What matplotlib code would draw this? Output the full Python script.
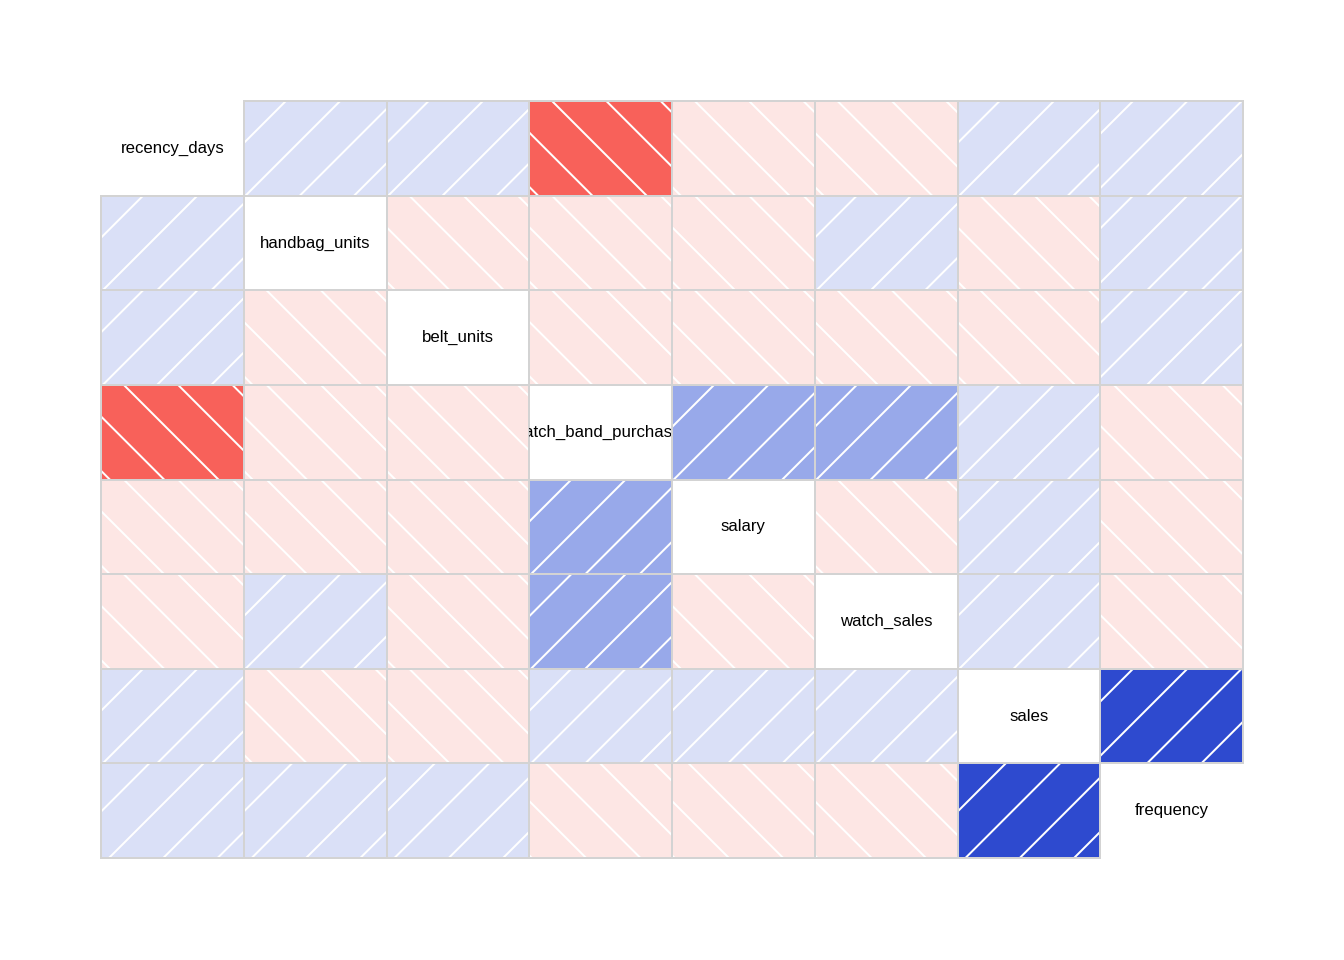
import numpy as np
import matplotlib
matplotlib.use("Agg")
import matplotlib.pyplot as plt
from matplotlib.patches import Rectangle
from matplotlib.collections import LineCollection
from matplotlib.transforms import Bbox, TransformedBbox

# variables, in the order of the matrix
names = ["recency_days", "handbag_units", "belt_units", "watch_band_purchases",
         "salary", "watch_sales", "sales", "frequency"]

# correlations (symmetric), read from the shading classes
corr = [
    [1.00, 0.04, 0.02, -0.78, -0.03, -0.05, 0.06, 0.05],
    [0.04, 1.00, -0.02, -0.04, -0.01, 0.03, -0.02, 0.04],
    [0.02, -0.02, 1.00, -0.03, -0.02, -0.01, -0.04, 0.02],
    [-0.78, -0.04, -0.03, 1.00, 0.36, 0.33, 0.08, -0.06],
    [-0.03, -0.01, -0.02, 0.36, 1.00, -0.02, 0.05, -0.03],
    [-0.05, 0.03, -0.01, 0.33, -0.02, 1.00, 0.07, -0.04],
    [0.06, -0.02, -0.04, 0.08, 0.05, 0.07, 1.00, 0.81],
    [0.05, 0.04, 0.02, -0.06, -0.03, -0.04, 0.81, 1.00],
]

# where 0 sits inside each variable's panel range (sets the hatch phase)
origin_frac = [0.037, 0.037, 0.037, 0.037, 0.037, 0.037, 0.037, -0.028]

# 14 shading classes, as corrgram does
n_bins = 14
anchor_bins = [0, 1, 6, 7, 9, 12, 13]
anchor_cols = ["#F23D35", "#F8615A", "#FDE6E4", "#DAE0F7", "#98A9EA", "#2E4ACF", "#1D35B5"]


def hex_rgb(h):
    return np.array([int(h[k:k + 2], 16) for k in (1, 3, 5)]) / 255.0


anchor_rgb = np.array([hex_rgb(c) for c in anchor_cols])
palette = [tuple(np.interp(b, anchor_bins, anchor_rgb[:, ch]) for ch in range(3))
           for b in range(n_bins)]


def shade(r):
    idx = int(np.floor((r + 1) / 2 * n_bins))
    return palette[min(max(idx, 0), n_bins - 1)]


dpi = 192
fig = plt.figure(figsize=(7, 5), dpi=dpi)
left, right, top, bottom = 101, 1243, 101, 858
ax = fig.add_axes([left / 1344, 1 - bottom / 960, (right - left) / 1344, (bottom - top) / 960])
n = len(names)
ax.set_xlim(0, n)
ax.set_ylim(n, 0)
ax.axis("off")

W = (right - left) / n       # cell size in px
H = (bottom - top) / n
S = 0.2 / np.sin(np.pi / 4) * dpi   # density 5 lines/inch, 45 degrees

for i in range(n):
    for j in range(n):
        if i == j:
            t = ax.text(j + 0.5, i + 0.5, names[i], ha="center", va="center",
                        fontsize=6.3, family=["Liberation Sans", "DejaVu Sans"],
                        clip_on=True)
            t.set_clip_box(TransformedBbox(Bbox([[j, i], [j + 1, i + 1]]), ax.transData))
            continue
        r = corr[i][j]
        cell = Rectangle((j, i), 1, 1, facecolor=shade(r), edgecolor="none", zorder=1)
        ax.add_patch(cell)

        ox = origin_frac[j] * W
        oy = origin_frac[i] * H
        segs = []
        if r > 0:
            c0 = ox - oy
            for k in range(int(np.floor((-H - c0) / S)) - 1, int(np.ceil((W - c0) / S)) + 2):
                c = c0 + k * S
                pts = [(c - 10, -10), (c + H + 10, H + 10)]
                segs.append([(j + u / W, i + 1 - v / H) for u, v in pts])
        else:
            c0 = ox + oy
            for k in range(int(np.floor(-c0 / S)) - 1, int(np.ceil((W + H - c0) / S)) + 2):
                c = c0 + k * S
                pts = [(c + 10, -10), (c - H - 10, H + 10)]
                segs.append([(j + u / W, i + 1 - v / H) for u, v in pts])
        lc = LineCollection(segs, colors="white", linewidths=0.75, zorder=2)
        ax.add_collection(lc)
        lc.set_clip_path(cell)

        ax.add_patch(Rectangle((j, i), 1, 1, facecolor="none", edgecolor="#D3D3D3",
                               linewidth=0.75, zorder=3, clip_on=False))

fig.savefig("out.png", dpi=dpi)
